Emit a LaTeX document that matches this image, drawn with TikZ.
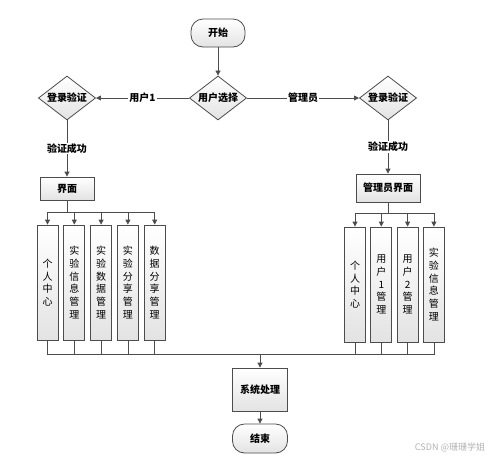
\documentclass[tikz,border=0pt]{standalone}
\usepackage{fontspec}
\setmainfont{Noto Sans CJK SC}
\usetikzlibrary{shapes.geometric,arrows.meta,positioning}

\tikzset{
  flow/.style={draw=black!70, line width=0.8pt, top color=white, bottom color=gray!22},
  term/.style={flow, rectangle, rounded corners=12pt, minimum width=54pt, minimum height=28pt, font=\bfseries\fontsize{10}{12}\selectfont},
  decide/.style={flow, diamond, aspect=1.3, inner sep=1pt, minimum width=55pt, minimum height=42pt, font=\bfseries\fontsize{10}{12}\selectfont},
  proc/.style={flow, rectangle, minimum width=54pt, minimum height=23pt, font=\bfseries\fontsize{10}{12}\selectfont},
  col/.style={flow, rectangle, minimum width=21pt, minimum height=115pt, inner sep=0pt, align=center, font=\fontsize{10}{12.8}\selectfont},
  line/.style={draw=black!70, line width=0.8pt},
  arr/.style={line, -{Triangle[length=5pt,width=5pt]}},
  lbl/.style={fill=white, inner sep=1pt, font=\bfseries\fontsize{10}{12}\selectfont}
}

\begin{document}
\begin{tikzpicture}[x=1pt, y=-1pt]
     \useasboundingbox (0,0) rectangle (499,459);

     % Define nodes
     \node[term]                      (start)  at (218,33)  {开始};
     \node[decide]                    (choose) at (218,98)  {用户选择};
     \node[decide]                    (loginL) at (67,98)   {登录验证};
     \node[decide]                    (loginR) at (388,98)  {登录验证};
     \node[proc]                      (uiL)    at (67,188.5) {界面};
     \node[proc, minimum width=64pt, minimum height=28pt] (uiR) at (388,188) {管理员界面};

     % User modules
     \node[col]                       (u1) at (47.5,282.5) {个\\人\\中\\心};
     \node[col, right=5pt of u1]      (u2) {实\\验\\信\\息\\管\\理};
     \node[col, right=5pt of u2]      (u3) {实\\验\\数\\据\\管\\理};
     \node[col, right=5pt of u3]      (u4) {实\\验\\分\\享\\管\\理};
     \node[col, right=5pt of u4]      (u5) {数\\据\\分\\享\\管\\理};

     % Admin modules
     \node[col]                       (m1) at (355,284.5) {个\\人\\中\\心};
     \node[col, right=4.5pt of m1]    (m2) {用\\户\\1\\管\\理};
     \node[col, right=4.5pt of m2]    (m3) {用\\户\\2\\管\\理};
     \node[col, right=4.5pt of m3]    (m4) {实\\验\\信\\息\\管\\理};

     \node[proc, minimum width=55pt, minimum height=43pt] (sys) at (260,389.5) {系统处理};
     \node[term, minimum width=55pt, minimum height=29pt] (stop) at (260,438.5) {结束};

     \node[text=gray!60, font=\fontsize{9}{11}\selectfont] (mark) at (450,447) {CSDN @珊珊学姐};

     % Helper points
     \coordinate (forkL) at (uiL.south |- 0,212);
     \coordinate (forkR) at (uiR.south |- 0,213);
     \coordinate (join)  at (sys.north |- 0,354);

     % Connect the nodes
     \draw[arr] (start) -- (choose);
     \draw[arr] (choose.west) -- node[lbl] {用户1} (loginL.east);
     \draw[arr] (choose.east) -- node[lbl] {管理员} (loginR.west);
     \draw[arr] (loginL) -- node[lbl] {验证成功} (uiL);
     \draw[arr] (loginR) -- node[lbl] {验证成功} (uiR);

     \draw[line] (uiL.south) -- (forkL);
     \draw[arr] (forkL) -| (u1.north);
     \draw[arr] (forkL) -| (u2.north);
     \draw[arr] (forkL) -| (u3.north);
     \draw[arr] (forkL) -| (u4.north);
     \draw[arr] (forkL) -| (u5.north);

     \draw[line] (uiR.south) -- (forkR);
     \draw[arr] (forkR) -| (m1.north);
     \draw[arr] (forkR) -| (m2.north);
     \draw[arr] (forkR) -| (m3.north);
     \draw[arr] (forkR) -| (m4.north);

     \draw[line] (u1.south) |- (join);
     \draw[line] (u2.south) |- (join);
     \draw[line] (u3.south) |- (join);
     \draw[line] (u4.south) |- (join);
     \draw[line] (u5.south) |- (join);
     \draw[line] (m1.south) |- (join);
     \draw[line] (m2.south) |- (join);
     \draw[line] (m3.south) |- (join);
     \draw[line] (m4.south) |- (join);
     \draw[arr] (join) -- (sys);
     \draw[arr] (sys) -- (stop);

\end{tikzpicture}
\end{document}
